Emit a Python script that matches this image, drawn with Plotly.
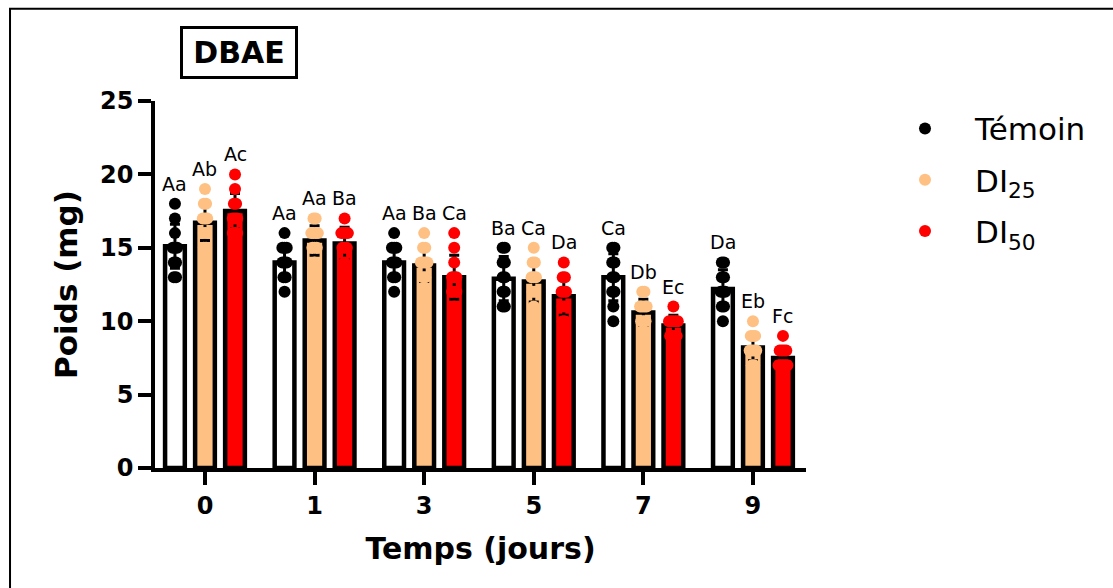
import plotly.graph_objects as go

# ---------------- data ----------------
days = ["0", "1", "3", "5", "7", "9"]
series_names = ["Témoin", "DI<sub>25</sub>", "DI<sub>50</sub>"]

mean_temoin = [15.1, 14.0, 14.0, 12.9, 13.0, 12.2]
mean_di25 = [16.7, 15.5, 13.8, 12.7, 10.6, 8.2]
mean_di50 = [17.5, 15.3, 13.0, 11.7, 9.7, 7.5]

sd_temoin = [1.5, 1.2, 1.2, 1.5, 1.6, 1.3]
sd_di25 = [1.2, 1.0, 1.1, 1.4, 0.9, 0.9]
sd_di50 = [1.2, 1.1, 1.5, 1.3, 0.7, 0.7]

pts_temoin = [
    [13, 13, 14, 14, 15, 15, 15, 16, 17, 18],
    [12, 13, 13, 14, 14, 14, 15, 15, 15, 16],
    [12, 13, 13, 14, 14, 14, 15, 15, 15, 16],
    [11, 11, 12, 12, 13, 13, 14, 14, 15, 15],
    [10, 11, 12, 12, 13, 13, 14, 14, 15, 15],
    [10, 11, 11, 12, 12, 12, 13, 13, 14, 14],
]
pts_di25 = [
    [15, 15, 16, 16, 17, 17, 17, 18, 18, 19],
    [14, 15, 15, 15, 16, 16, 16, 16, 17, 17],
    [12, 13, 13, 14, 14, 14, 14, 15, 15, 16],
    [10, 11, 12, 12, 13, 13, 13, 14, 14, 15],
    [9, 10, 10, 10, 11, 11, 11, 11, 12, 12],
    [7, 7, 8, 8, 8, 8, 9, 9, 9, 10],
]
pts_di50 = [
    [16, 16, 16, 17, 17, 17, 18, 18, 19, 20],
    [13, 14, 15, 15, 15, 16, 16, 16, 16, 17],
    [11, 12, 12, 12, 13, 13, 13, 14, 15, 16],
    [10, 10, 11, 11, 12, 12, 12, 13, 13, 14],
    [9, 9, 9, 9, 10, 10, 10, 10, 10, 11],
    [7, 7, 7, 7, 7, 8, 8, 8, 8, 9],
]

letters_temoin = ["Aa", "Aa", "Aa", "Ba", "Ca", "Da"]
letters_di25 = ["Ab", "Aa", "Ba", "Ca", "Db", "Eb"]
letters_di50 = ["Ac", "Ba", "Ca", "Da", "Ec", "Fc"]

# ---------------- style ----------------
FONT = "DejaVu Sans, Liberation Sans, Arial, sans-serif"
fills = ["#FFFFFF", "#FFC183", "#FF0000"]
dot_colors = ["#000000", "#FFC183", "#FF0000"]
offsets = [-0.274, 0.0, 0.274]
BAR_W = 0.18

means = [mean_temoin, mean_di25, mean_di50]
sds = [sd_temoin, sd_di25, sd_di50]
pts = [pts_temoin, pts_di25, pts_di50]
letters = [letters_temoin, letters_di25, letters_di50]

fig = go.Figure()

for s in range(3):
    fig.add_trace(go.Bar(
        x=[i + offsets[s] for i in range(len(days))],
        y=means[s],
        width=BAR_W,
        marker=dict(color=fills[s], line=dict(color="black", width=4.5)),
        error_y=dict(type="data", array=sds[s], color="black", thickness=3, width=5),
        showlegend=False,
        hoverinfo="skip",
    ))

for s in range(3):
    xs, ys = [], []
    for i, group in enumerate(pts[s]):
        counts = {}
        for v in group:
            counts[v] = counts.get(v, 0) + 1
        seen = {}
        for v in group:
            k = seen.get(v, 0)
            seen[v] = k + 1
            m = counts[v]
            xs.append(i + offsets[s] + (k - (m - 1) / 2) * 0.02)
            ys.append(v)
    fig.add_trace(go.Scatter(
        x=xs, y=ys, mode="markers",
        marker=dict(color=dot_colors[s], size=12),
        name=series_names[s],
        legendgroup=f"g{s}",
        showlegend=True,
    ))

annotations = []
for s in range(3):
    for i in range(len(days)):
        annotations.append(dict(
            x=i + offsets[s], y=max(pts[s][i]), xref="x", yref="y",
            text=letters[s][i], showarrow=False, yanchor="bottom", yshift=7,
            font=dict(family=FONT, size=19, color="black"),
        ))

annotations.append(dict(
    x=0.129, y=1.131, xref="paper", yref="paper",
    text="<b>DBAE</b>", showarrow=False,
    font=dict(family=FONT, size=30, color="black"),
    bordercolor="black", borderwidth=3, borderpad=0,
    width=112, height=47, xanchor="center", yanchor="middle",
))

fig.update_layout(
    width=1113, height=588,
    margin=dict(l=155, r=307, t=101, b=120),
    plot_bgcolor="white", paper_bgcolor="white",
    barmode="overlay",
    font=dict(family=FONT, color="black"),
    annotations=annotations,
    legend=dict(
        x=1.106, y=0.998, xanchor="left", yanchor="top",
        font=dict(family=FONT, size=31, color="black"),
        itemwidth=90, tracegroupgap=8, bgcolor="rgba(0,0,0,0)",
    ),
    shapes=[dict(
        type="rect", xref="paper", yref="paper",
        x0=-0.2227, x1=1.8, y0=-0.6, y1=1.2514,
        line=dict(color="black", width=2), layer="below",
    )],
    xaxis=dict(
        range=[-0.456, 5.484],
        tickvals=list(range(len(days))), ticktext=days,
        showline=True, linecolor="black", linewidth=3.5,
        ticks="outside", ticklen=13, tickwidth=3.5, tickcolor="black",
        tickfont=dict(family=FONT, size=24, weight="bold"),
        showgrid=False, zeroline=False,
        title=dict(text="<b>Temps (jours)</b>", font=dict(family=FONT, size=30), standoff=20),
    ),
    yaxis=dict(
        range=[0, 25],
        tickvals=[0, 5, 10, 15, 20, 25],
        showline=True, linecolor="black", linewidth=3.5,
        ticks="outside", ticklen=13, tickwidth=3.5, tickcolor="black",
        tickfont=dict(family=FONT, size=24, weight="bold"),
        showgrid=False, zeroline=False,
        title=dict(text="<b>Poids (mg)</b>", font=dict(family=FONT, size=31), standoff=14),
    ),
)

fig.write_html("out.html")
